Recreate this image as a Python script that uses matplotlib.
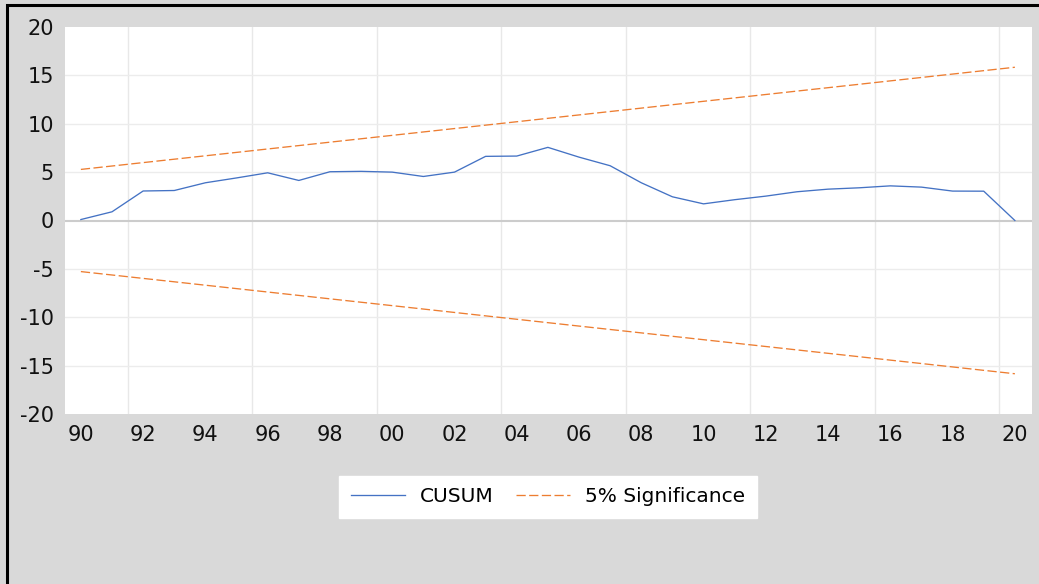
import numpy as np
import matplotlib.pyplot as plt
from matplotlib.patches import Rectangle

plt.rcParams["axes.unicode_minus"] = False

# CUSUM statistic, 1990-2020
years = list(range(1990, 2021))
cusum = [0.1, 0.9, 3.05, 3.1, 3.9, 4.4, 4.93, 4.14, 5.04, 5.08, 5.0,
         4.55, 5.0, 6.63, 6.66, 7.56, 6.55, 5.66, 3.9, 2.45, 1.72,
         2.15, 2.52, 2.97, 3.24, 3.38, 3.58, 3.45, 3.04, 3.03, 0.0]

# 5% significance bounds (straight lines between the end points)
bound_years = [1990, 2020]
upper = [5.28, 15.84]
lower = [-5.28, -15.84]

xtick_years = list(range(1990, 2021, 2))
xtick_labels = ["%02d" % (y % 100) for y in xtick_years]
grid_x = [1991.5 + 4 * i for i in range(8)]

W, H = 1039, 584
fig = plt.figure(figsize=(W / 100, H / 100), dpi=100)
fig.patch.set_facecolor("#d9d9d9")

# black frame around the chart (only top and left fall inside the image)
fig.patches.append(Rectangle((6.5 / W, -0.2), 1.5, 1.2 - 4.5 / H,
                             transform=fig.transFigure, fill=False,
                             edgecolor="black", linewidth=2.2))

ax = fig.add_axes([65 / W, (H - 414) / H, (1032 - 65) / W, (414 - 27) / H])
ax.set_facecolor("white")

for gx in grid_x:
    ax.axvline(gx, color="#e8e8e8", linewidth=1.0, zorder=0)
for gy in [-15, -10, -5, 5, 10, 15]:
    ax.axhline(gy, color="#ececec", linewidth=1.0, zorder=0)
ax.axhline(0, color="#cccccc", linewidth=1.5, zorder=1)

ax.plot(years, cusum, color="#4472c4", linewidth=0.95, label="CUSUM", zorder=3)
ax.plot(bound_years, upper, color="#ed7d31", linewidth=0.95,
        linestyle=(0, (7, 2.6)), label="5% Significance", zorder=2)
ax.plot(bound_years, lower, color="#ed7d31", linewidth=0.95,
        linestyle=(0, (7, 2.6)), zorder=2)

ax.set_xlim(1989.49, 2020.55)
ax.set_ylim(-20, 20)
ax.set_yticks([-20, -15, -10, -5, 0, 5, 10, 15, 20])
ax.set_xticks(xtick_years)
ax.set_xticklabels(xtick_labels)
ax.tick_params(axis="both", length=0, labelsize=15, colors="#111111")
ax.tick_params(axis="y", pad=8)
ax.tick_params(axis="x", pad=8)
for lab in ax.get_xticklabels() + ax.get_yticklabels():
    lab.set_family("DejaVu Sans")
for sp in ax.spines.values():
    sp.set_visible(False)

leg = fig.legend(loc="center", bbox_to_anchor=(548 / W, 1 - 497 / H),
                 ncol=2, frameon=True, fancybox=False, framealpha=1,
                 handlelength=2.7, columnspacing=1.1, handletextpad=0.75,
                 borderpad=0.55, borderaxespad=0,
                 prop={"family": "DejaVu Sans", "size": 14.5})
leg.get_frame().set_edgecolor("white")
leg.get_frame().set_facecolor("white")

fig.savefig("out.png", dpi=100, facecolor=fig.get_facecolor())
